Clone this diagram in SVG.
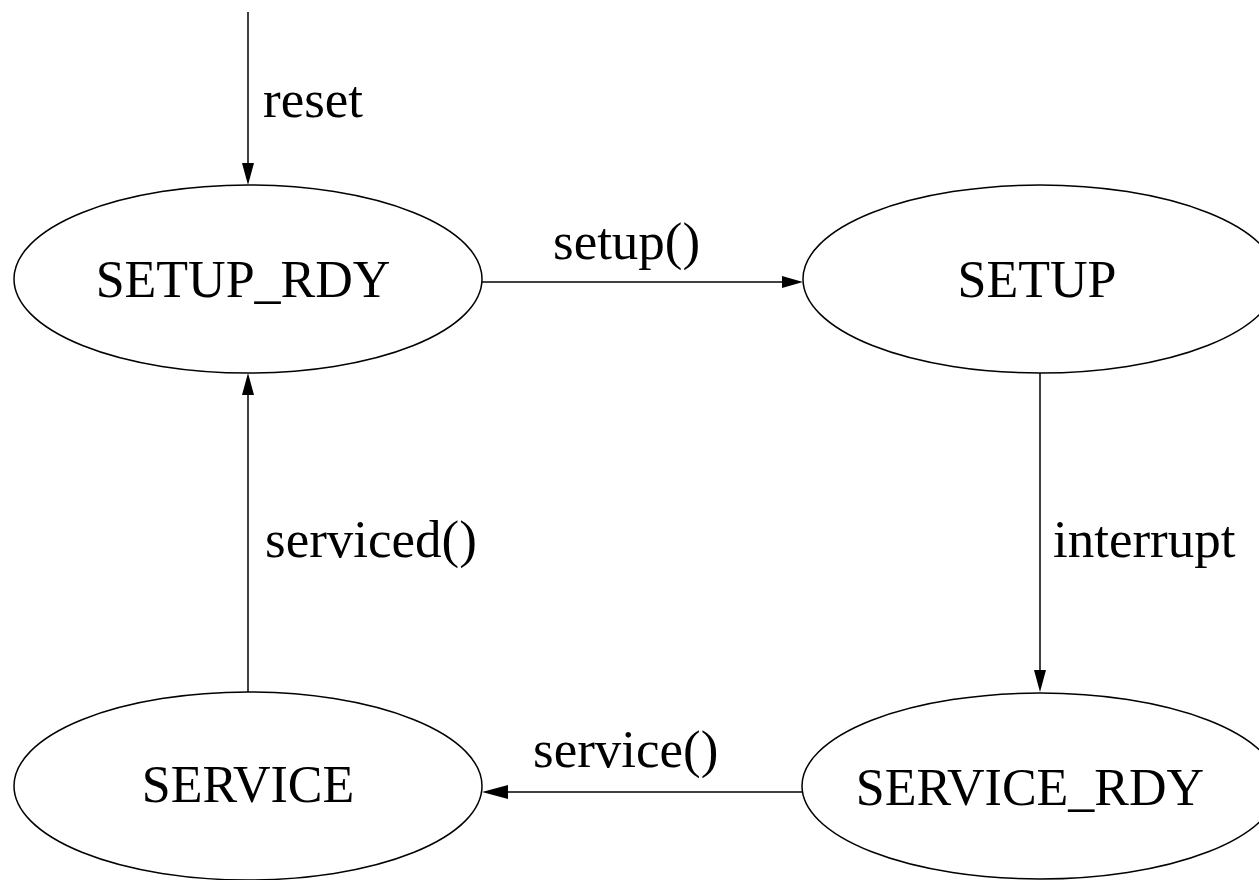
<svg xmlns="http://www.w3.org/2000/svg" width="1259" height="880" viewBox="0 0 1259 880">
  <style>
    .state ellipse { fill: none; stroke: #000; stroke-width: 1.5; }
    .state text { font-family: "Liberation Serif", "Times New Roman", serif; font-size: 52px; fill: #000; text-anchor: middle; }
    .edge line { stroke: #000; stroke-width: 1.5; }
    .edge polygon { fill: #000; }
    .label { font-family: "Liberation Serif", "Times New Roman", serif; font-size: 53px; fill: #000; }
  </style>
  <rect width="1259" height="880" fill="#fff"/>

  <g id="SETUP_RDY" class="state">
    <ellipse cx="248" cy="279" rx="234" ry="94"/>
    <text x="243" y="297">SETUP_RDY</text>
  </g>
  <g id="SETUP" class="state">
    <ellipse cx="1040" cy="279" rx="237" ry="94"/>
    <text x="1037" y="297">SETUP</text>
  </g>
  <g id="SERVICE_RDY" class="state">
    <ellipse cx="1040" cy="786" rx="238" ry="93"/>
    <text x="1030" y="805">SERVICE_RDY</text>
  </g>
  <g id="SERVICE" class="state">
    <ellipse cx="248" cy="786" rx="234" ry="94"/>
    <text x="248" y="802">SERVICE</text>
  </g>

  <g id="connectors" class="edge">
    <!-- reset: entry into SETUP_RDY -->
    <line x1="248" y1="12" x2="248" y2="165"/>
    <polygon points="242,163 254,163 248,185"/>
    <text class="label" x="263" y="117">reset</text>

    <!-- setup(): SETUP_RDY -> SETUP -->
    <line x1="482" y1="282" x2="784" y2="282"/>
    <polygon points="782,276 782,288 803,282"/>
    <text class="label" x="553" y="259">setup()</text>

    <!-- interrupt: SETUP -> SERVICE_RDY -->
    <line x1="1040" y1="373" x2="1040" y2="672"/>
    <polygon points="1034,670 1046,670 1040,692"/>
    <text class="label" x="1053" y="557">interrupt</text>

    <!-- service(): SERVICE_RDY -> SERVICE -->
    <line x1="802" y1="792" x2="505" y2="792"/>
    <polygon points="508,785 508,799 482,792"/>
    <text class="label" x="533" y="767">service()</text>

    <!-- serviced(): SERVICE -> SETUP_RDY -->
    <line x1="248" y1="692" x2="248" y2="393"/>
    <polygon points="242,395 254,395 248,373"/>
    <text class="label" x="265" y="557">serviced()</text>
  </g>
</svg>
